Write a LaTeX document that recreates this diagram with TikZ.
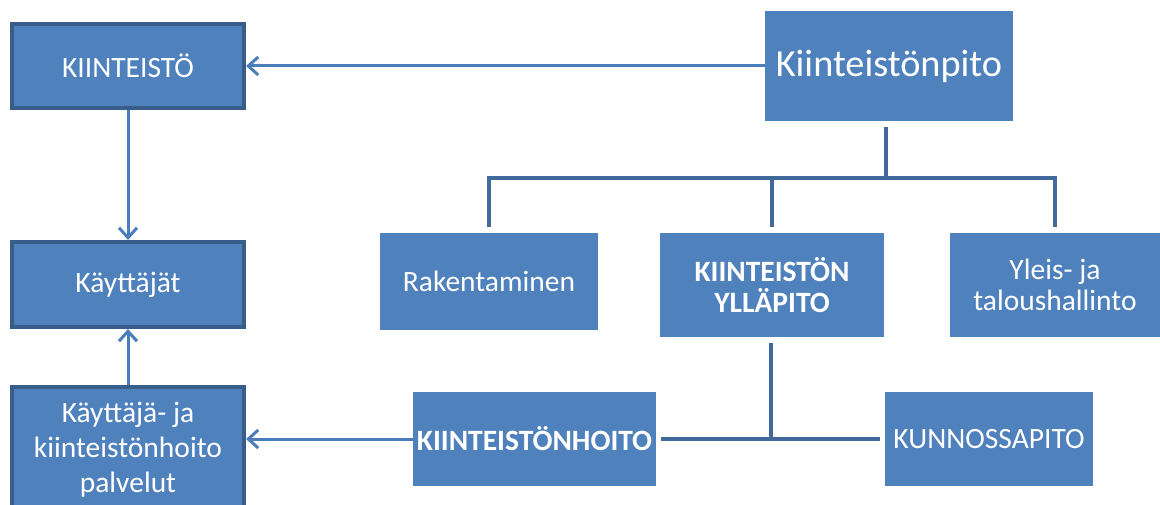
\documentclass[tikz,border=0pt]{standalone}
\usepackage{fontspec}
\setmainfont{Carlito}
\usetikzlibrary{arrows.meta,calc}
\definecolor{boxfill}{HTML}{4F81BD}
\definecolor{boxedge}{HTML}{385D8A}
\definecolor{arrowcol}{HTML}{4A7EBB}
\definecolor{treecol}{HTML}{41699C}
\begin{document}
\begin{tikzpicture}[x=1pt,y=-1pt,
  box/.style={fill=boxfill, text=white, align=center, inner sep=0pt,
    font=\fontsize{29.5}{31}\selectfont},
  framed/.style={box, draw=boxedge, line width=4pt},
  flow/.style={draw=arrowcol, line width=3pt,
    -{Straight Barb[length=10pt,width=18pt]}},
  tree/.style={draw=treecol, line width=4.5pt}
]
\useasboundingbox (0,0) rectangle (1160,505);

% left column: framed boxes
\node[framed, minimum width=232pt, minimum height=84pt] (kt) at (128,66) {KIINTEISTÖ};
\node[framed, minimum width=232pt, minimum height=85pt] (ky) at (128,284.5) {Käyttäjät};
\node[framed, minimum width=232pt, minimum height=136pt] (kpal) at (128,455) {};
\node[text=white, align=center, inner sep=0pt, font=\fontsize{29.5}{35}\selectfont]
  (kpaltext) at (128,450) {Käyttäjä- ja\\kiinteistönhoito\\palvelut};

% right part: plain boxes
\node[box, minimum width=248pt, minimum height=110pt,
  font=\fontsize{38.3}{40}\selectfont] (kp) at (889,66) {Kiinteistönpito};
\node[box, minimum width=218pt, minimum height=97pt] (rak) at (489,281.5) {Rakentaminen};
\node[box, minimum width=224pt, minimum height=104pt] (kyl) at (772,285) {\bfseries KIINTEISTÖN\\\bfseries YLLÄPITO};
\node[box, minimum width=210pt, minimum height=104pt] (yt) at (1055,285) {Yleis- ja\\taloushallinto};
\node[box, minimum width=243pt, minimum height=94pt] (kh) at (534.5,439) {\bfseries KIINTEISTÖNHOITO};
\node[box, minimum width=208pt, minimum height=94pt] (kun) at (989,439) {KUNNOSSAPITO};

% arrows
\draw[flow] (kp.west) -- (kp.west -| kt.east);
\draw[flow] (kt.south) -- (ky.north);
\draw[flow] (kpal.north) -- (ky.south);
\draw[flow] (kh.west) -- (kh.west -| kpal.east);

% organisation tree
\coordinate (bar) at (0,178);
\coordinate (kpdrop) at ($(kp.south)+(-3,6)$);
\coordinate (kyldrop) at ($(kyl.south)+(-1,6)$);
\draw[tree] (kpdrop) -- (kpdrop |- bar);
\draw[tree] ($(rak.north)+(0,-6)$) -- (rak.north |- bar) -- (yt.north |- bar)
  -- ($(yt.north)+(0,-6)$);
\draw[tree] (kyl.north |- bar) -- ($(kyl.north)+(0,-6)$);
\draw[tree] (kyldrop) -- (kyldrop |- kh.center);
\draw[tree] ($(kh.east)+(5,0)$) -- ($(kun.west)+(-5,0)$);
\end{tikzpicture}
\end{document}
